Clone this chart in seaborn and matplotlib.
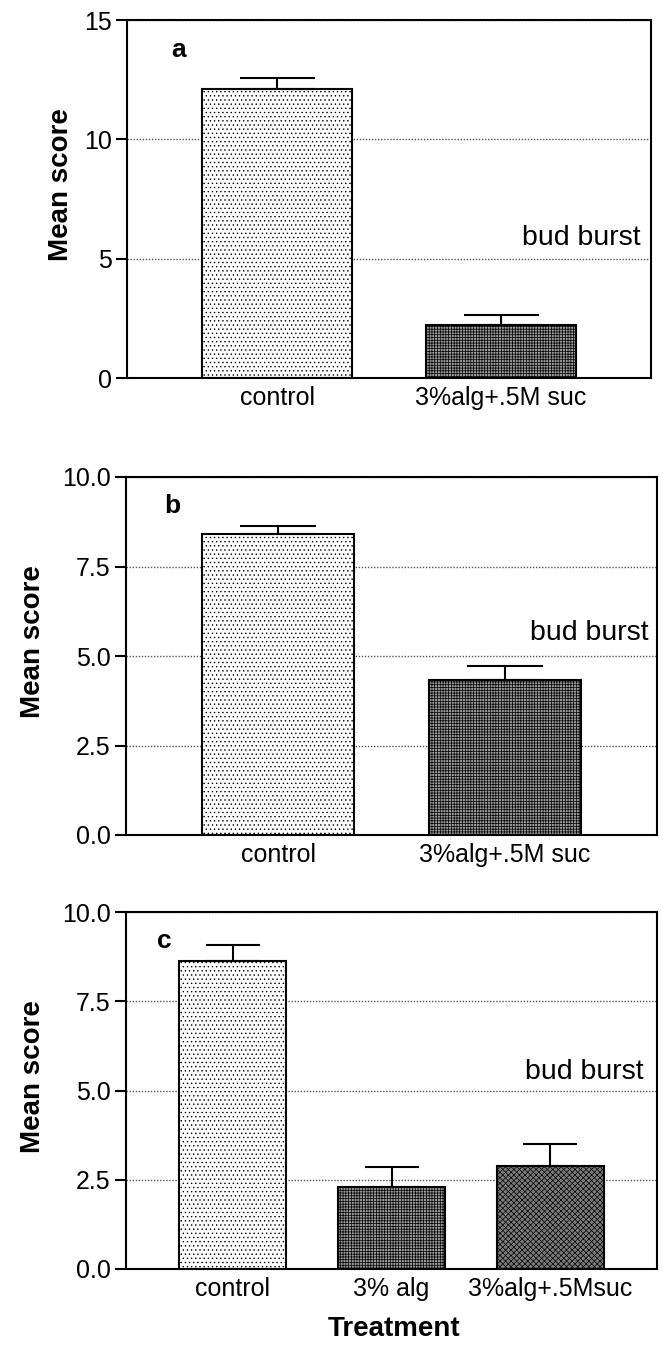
import matplotlib
matplotlib.use("Agg")
import matplotlib.pyplot as plt
import seaborn as sns
import numpy as np
from matplotlib.ticker import FormatStrFormatter, MultipleLocator

# ---------------- data ----------------
cats_a = ["control", "3%alg+.5M suc"]
means_a = [12.1, 2.2]
errs_a = [0.45, 0.43]

cats_b = ["control", "3%alg+.5M suc"]
means_b = [8.42, 4.33]
errs_b = [0.20, 0.40]

cats_c = ["control", "3% alg", "3%alg+.5Msuc"]
means_c = [8.63, 2.29, 2.89]
errs_c = [0.44, 0.56, 0.61]

panel_letters = ["a", "b", "c"]
note_text = "bud burst"
ylabel_text = "Mean score"
xlabel_text = "Treatment"

# ---------------- style ----------------
sns.set_theme(style="white")
plt.rcParams["font.family"] = ["Liberation Sans", "DejaVu Sans"]
plt.rcParams["hatch.linewidth"] = 0.5

W, H = 663, 1345
fig = plt.figure(figsize=(W / 100, H / 100), dpi=100)


def frac(left, right, top, bottom):
    return [left / W, 1 - bottom / H, (right - left) / W, (bottom - top) / H]


ax_a = fig.add_axes(frac(127, 651, 20, 378))
ax_b = fig.add_axes(frac(126, 657, 477, 835))
ax_c = fig.add_axes(frac(126, 657, 912, 1269))

styles = {
    "control": dict(fc="white", hatch="...."),
    "3%alg+.5M suc": dict(fc="#9a9a9a", hatch="++++++"),
    "3% alg": dict(fc="#9a9a9a", hatch="++++++"),
    "3%alg+.5Msuc": dict(fc="#7a7a7a", hatch="xxxxxx"),
}


def panel(ax, cats, means, errs, ymax, ystep, fmt, letter, letter_xy,
          note_xy, ylab_x, capsize):
    pal = [styles[c]["fc"] for c in cats]
    sns.barplot(x=cats, y=means, hue=cats, palette=pal, legend=False,
                width=0.667, edgecolor="black", linewidth=1.5, ax=ax,
                saturation=1, zorder=2)
    for p, c in zip(ax.patches, cats):
        p.set_hatch(styles[c]["hatch"])
        p.set_edgecolor("black")
    ax.errorbar(x=np.arange(len(cats)), y=means,
                yerr=[np.zeros(len(cats)), errs], fmt="none",
                ecolor="black", elinewidth=1.5, capsize=capsize,
                capthick=1.5, zorder=3)
    n = len(cats)
    ax.set_xlim(-0.67, n - 0.33)
    ax.set_ylim(0, ymax)
    ax.yaxis.set_major_locator(MultipleLocator(ystep))
    ax.yaxis.set_major_formatter(FormatStrFormatter(fmt))
    ax.grid(axis="y", linestyle=(0, (1, 1.2)), color="#555555", linewidth=1.0)
    ax.grid(axis="x", visible=False)
    ax.set_axisbelow(True)
    for s in ax.spines.values():
        s.set_visible(True)
        s.set_color("black")
        s.set_linewidth(1.5)
    ax.tick_params(axis="y", which="major", direction="out", length=8,
                   width=1.5, color="black", pad=3, labelsize=18,
                   left=True, labelcolor="black")
    ax.tick_params(axis="x", length=0, pad=6, labelsize=18,
                   labelcolor="black")
    ax.set_ylabel(ylabel_text, fontsize=20, fontweight="bold", color="black")
    ax.yaxis.set_label_coords(ylab_x, 0.54)
    ax.set_xlabel("")
    ax.text(letter_xy[0], letter_xy[1], letter, transform=ax.transAxes,
            fontsize=19, fontweight="bold", ha="left", va="center",
            color="black")
    ax.text(note_xy[0], note_xy[1], note_text, transform=ax.transAxes,
            fontsize=20.5, ha="right", va="baseline", color="black")


panel(ax_a, cats_a, means_a, errs_a, 15, 5, "%d", panel_letters[0],
      (0.085, 0.916), (0.98, 0.371), -0.101, 27)
panel(ax_b, cats_b, means_b, errs_b, 10, 2.5, "%.1f", panel_letters[1],
      (0.072, 0.92), (0.985, 0.545), -0.151, 27.5)
panel(ax_c, cats_c, means_c, errs_c, 10, 2.5, "%.1f", panel_letters[2],
      (0.058, 0.92), (0.975, 0.532), -0.151, 19.5)

ax_c.set_xlabel(xlabel_text, fontsize=20, fontweight="bold", color="black")
ax_c.xaxis.set_label_coords(0.505, -0.132)

fig.savefig("out.png", dpi=100, facecolor="white")
